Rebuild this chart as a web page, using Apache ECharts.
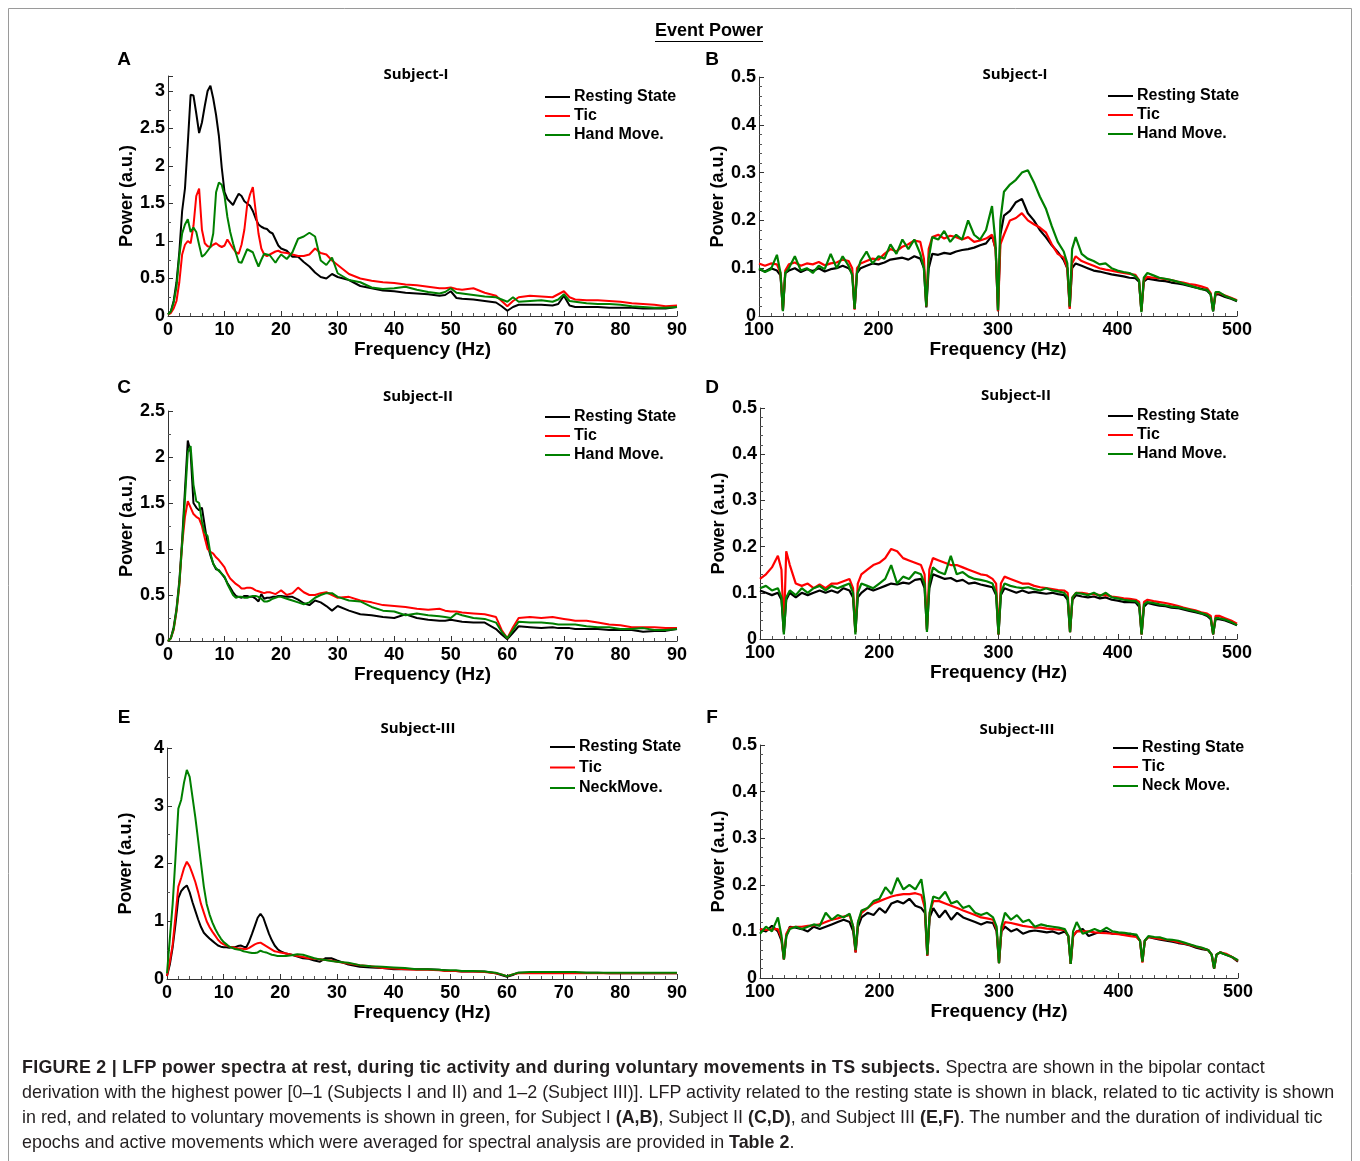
<!DOCTYPE html>
<html>
<head>
<meta charset="utf-8">
<script src="https://cdn.jsdelivr.net/npm/echarts@6/dist/echarts.min.js"></script>
<style>
  body { margin: 0; background: #fff; }
  #chart { position: absolute; left: 0; top: 0; width: 1360px; height: 1161px; }
  #caption {
    position: absolute; left: 22px; top: 1055px;
    font-family: "Liberation Sans", Arial, sans-serif; font-size: 17.9px; line-height: 25px;
    color: #231f20; white-space: nowrap;
  }
  #caption b.lead { letter-spacing: 0.25px; }
</style>
</head>
<body>
<div id="chart"></div>
<div id="caption">
<b class="lead">FIGURE 2 | LFP power spectra at rest, during tic activity and during voluntary movements in TS subjects.</b> Spectra are shown in the bipolar contact<br>
derivation with the highest power [0–1 (Subjects I and II) and 1–2 (Subject III)]. LFP activity related to the resting state is shown in black, related to tic activity is shown<br>
in red, and related to voluntary movements is shown in green, for Subject I <b>(A,B)</b>, Subject II <b>(C,D)</b>, and Subject III <b>(E,F)</b>. The number and the duration of individual tic<br>
epochs and active movements which were averaged for spectral analysis are provided in <b>Table 2</b>.
</div>
<script>
// frequency grids (Hz)
const lowFreq = [
  0,0.5,1,1.5,2,2.5,3,3.5,4,4.5,
  5,5.5,6,6.5,7,7.5,8,8.5,9,9.5,
  10,10.5,11,11.5,12,12.5,13,13.5,14,14.5,
  15,15.5,16,16.5,17,17.5,18,18.5,19,19.5,
  20,
  21,22,23,24,25,26,27,28,29,30,
  32,34,36,38,40,42,44,46,48,
  49,50,51,
  52,54,56,58,
  59,60,61,
  62,64,66,68,
  69,70,71,
  72,74,76,78,80,82,84,86,88,90
];
const highFreq = [
  100,105,110,115,
  118,120,122,
  125,130,135,140,145,150,155,160,165,170,175,
  178,180,182,
  185,190,195,200,205,210,215,220,225,230,235,
  238,240,242,
  245,250,255,260,265,270,275,280,285,290,295,
  298,300,302,
  305,310,315,320,325,330,335,340,345,350,355,
  358,360,362,
  365,370,375,380,385,390,395,400,405,410,415,
  418,420,422,
  425,430,435,440,445,450,455,460,465,470,475,
  478,480,482,
  485,490,495,500
];

// Subject I, 0-90 Hz
const restA = [
  0.02,0.06,0.2,0.45,0.85,1.4,1.7,2.3,2.95,2.94,
  2.7,2.44,2.58,2.8,3.0,3.07,2.9,2.68,2.4,1.98,
  1.65,1.56,1.52,1.48,1.56,1.63,1.6,1.53,1.5,1.47,
  1.4,1.3,1.22,1.19,1.17,1.16,1.12,1.1,1.02,0.94,
  0.9,
  0.87,0.79,0.79,0.72,0.66,0.58,0.52,0.5,0.56,0.52,
  0.48,0.4,0.37,0.34,0.33,0.31,0.3,0.29,0.27,
  0.28,0.33,0.24,
  0.23,0.22,0.2,0.18,
  0.13,0.07,0.12,
  0.15,0.15,0.15,0.14,
  0.16,0.27,0.14,
  0.12,0.12,0.12,0.11,0.11,0.11,0.1,0.1,0.1,0.12
];
const ticA = [
  0.02,0.04,0.1,0.2,0.45,0.82,0.95,1.0,0.97,1.2,
  1.6,1.7,1.15,0.97,0.93,0.92,0.95,0.97,0.94,0.92,
  0.94,1.02,0.96,0.9,0.85,0.83,0.95,1.15,1.48,1.62,
  1.72,1.4,1.1,0.9,0.82,0.8,0.82,0.84,0.86,0.87,
  0.85,
  0.84,0.82,0.8,0.8,0.82,0.9,0.84,0.82,0.74,0.68,
  0.56,0.5,0.47,0.45,0.44,0.42,0.41,0.39,0.37,
  0.37,0.38,0.36,
  0.35,0.37,0.31,0.27,
  0.2,0.13,0.2,
  0.25,0.27,0.26,0.25,
  0.29,0.33,0.25,
  0.22,0.21,0.21,0.2,0.19,0.17,0.16,0.15,0.13,0.14
];
const moveA = [
  0.02,0.06,0.18,0.39,0.8,1.1,1.22,1.29,1.12,1.18,
  1.12,0.95,0.79,0.82,0.87,0.92,1.1,1.65,1.78,1.75,
  1.6,1.32,1.12,0.97,0.84,0.72,0.71,0.8,0.89,0.87,
  0.85,0.75,0.66,0.75,0.83,0.82,0.81,0.76,0.71,0.77,
  0.82,
  0.76,0.85,1.03,1.06,1.11,1.06,0.74,0.68,0.78,0.57,
  0.48,0.45,0.38,0.36,0.37,0.39,0.35,0.32,0.3,
  0.32,0.37,0.31,
  0.3,0.28,0.26,0.25,
  0.22,0.19,0.25,
  0.19,0.2,0.21,0.19,
  0.22,0.29,0.2,
  0.19,0.17,0.16,0.16,0.15,0.13,0.12,0.11,0.11,0.12
];

// Subject II, 0-90 Hz
const restC = [
  0,0.03,0.15,0.35,0.65,1.1,1.64,2.18,2.05,1.5,
  1.45,1.42,1.45,1.25,1.05,0.93,0.84,0.78,0.77,0.73,
  0.69,0.63,0.58,0.53,0.49,0.48,0.47,0.49,0.49,0.48,
  0.48,0.46,0.43,0.51,0.46,0.47,0.47,0.48,0.48,0.49,
  0.49,
  0.48,0.48,0.45,0.41,0.39,0.44,0.42,0.38,0.33,0.38,
  0.33,0.29,0.28,0.26,0.25,0.29,0.25,0.23,0.22,
  0.22,0.23,0.22,
  0.21,0.2,0.2,0.13,
  0.07,0.02,0.09,
  0.16,0.15,0.14,0.15,
  0.14,0.14,0.14,
  0.13,0.13,0.13,0.12,0.12,0.12,0.1,0.11,0.11,0.13
];
const ticC = [
  0,0.03,0.12,0.32,0.6,1.05,1.35,1.52,1.45,1.38,
  1.35,1.33,1.25,1.12,1.0,0.97,0.95,0.91,0.88,0.84,
  0.8,0.73,0.68,0.65,0.62,0.6,0.57,0.57,0.58,0.58,
  0.57,0.55,0.54,0.53,0.52,0.53,0.53,0.52,0.51,0.53,
  0.55,
  0.5,0.52,0.58,0.53,0.5,0.5,0.52,0.53,0.5,0.47,
  0.48,0.44,0.42,0.39,0.38,0.37,0.35,0.34,0.35,
  0.33,0.32,0.32,
  0.31,0.3,0.29,0.26,
  0.12,0.03,0.15,
  0.25,0.26,0.25,0.26,
  0.25,0.24,0.23,
  0.22,0.22,0.2,0.18,0.17,0.15,0.15,0.15,0.14,0.14
];
const moveC = [
  0,0.03,0.13,0.33,0.62,1.05,1.55,2.05,2.12,1.7,
  1.52,1.5,1.3,1.18,1.14,0.95,0.84,0.79,0.76,0.73,
  0.7,0.62,0.56,0.5,0.47,0.48,0.48,0.47,0.47,0.48,
  0.49,0.49,0.48,0.46,0.43,0.43,0.44,0.46,0.47,0.48,
  0.48,
  0.46,0.44,0.42,0.4,0.42,0.47,0.5,0.52,0.52,0.48,
  0.44,0.43,0.37,0.33,0.32,0.28,0.3,0.28,0.27,
  0.26,0.25,0.3,
  0.28,0.25,0.24,0.2,
  0.1,0.03,0.12,
  0.21,0.2,0.2,0.19,
  0.18,0.18,0.18,
  0.18,0.16,0.15,0.15,0.13,0.13,0.14,0.12,0.12,0.13
];

// Subject III, 0-90 Hz
const restE = [
  0.05,0.25,0.55,0.95,1.4,1.52,1.58,1.62,1.5,1.33,
  1.18,1.03,0.9,0.8,0.75,0.7,0.66,0.62,0.58,0.56,
  0.55,0.55,0.54,0.55,0.55,0.57,0.58,0.56,0.55,0.65,
  0.78,0.92,1.06,1.13,1.06,0.92,0.78,0.67,0.58,0.52,
  0.48,
  0.44,0.42,0.39,0.36,0.35,0.32,0.3,0.36,0.36,0.32,
  0.25,0.21,0.2,0.19,0.17,0.17,0.17,0.17,0.16,
  0.15,0.14,0.14,
  0.13,0.13,0.13,0.1,
  0.07,0.04,0.07,
  0.11,0.11,0.12,0.11,
  0.11,0.11,0.11,
  0.11,0.11,0.11,0.1,0.1,0.1,0.1,0.1,0.1,0.1
];
const ticE = [
  0.05,0.3,0.6,1.1,1.6,1.75,1.92,2.03,1.95,1.82,
  1.68,1.5,1.3,1.15,1.0,0.9,0.82,0.75,0.68,0.63,
  0.6,0.58,0.56,0.55,0.54,0.53,0.53,0.52,0.52,0.54,
  0.57,0.6,0.62,0.63,0.6,0.57,0.54,0.51,0.48,0.47,
  0.46,
  0.44,0.42,0.4,0.38,0.36,0.35,0.34,0.33,0.32,0.3,
  0.27,0.24,0.22,0.19,0.18,0.17,0.16,0.16,0.15,
  0.14,0.14,0.14,
  0.13,0.13,0.12,0.1,
  0.08,0.05,0.08,
  0.1,0.1,0.1,0.1,
  0.1,0.1,0.1,
  0.1,0.1,0.1,0.1,0.1,0.1,0.1,0.1,0.1,0.1
];
const moveE = [
  0.1,0.7,1.3,2.1,2.95,3.1,3.4,3.62,3.5,3.15,
  2.8,2.4,2.0,1.6,1.3,1.12,0.98,0.87,0.78,0.7,
  0.64,0.6,0.56,0.54,0.52,0.51,0.5,0.48,0.47,0.46,
  0.45,0.45,0.46,0.49,0.47,0.46,0.44,0.42,0.41,0.4,
  0.4,
  0.4,0.41,0.43,0.42,0.39,0.36,0.34,0.33,0.31,0.3,
  0.28,0.24,0.22,0.21,0.2,0.19,0.17,0.17,0.16,
  0.15,0.15,0.15,
  0.14,0.14,0.13,0.11,
  0.08,0.05,0.08,
  0.11,0.12,0.12,0.12,
  0.12,0.12,0.12,
  0.12,0.11,0.11,0.11,0.11,0.11,0.11,0.11,0.11,0.11
];

// Subject I, 100-500 Hz
const restB = [
  0.098,0.093,0.1,0.095,
  0.085,0.012,0.09,
  0.095,0.1,0.092,0.098,0.094,0.1,0.093,0.098,0.1,0.105,0.1,
  0.09,0.015,0.09,
  0.1,0.105,0.11,0.108,0.112,0.118,0.12,0.122,0.118,0.125,0.12,
  0.1,0.018,0.1,
  0.13,0.128,0.132,0.13,0.135,0.138,0.14,0.143,0.148,0.152,0.168,
  0.14,0.01,0.17,
  0.21,0.22,0.238,0.245,0.215,0.2,0.18,0.165,0.148,0.134,0.117,
  0.1,0.018,0.1,
  0.11,0.105,0.1,0.095,0.093,0.09,0.087,0.085,0.083,0.08,0.079,
  0.072,0.01,0.072,
  0.078,0.076,0.074,0.073,0.07,0.068,0.066,0.063,0.06,0.057,0.053,
  0.045,0.01,0.045,
  0.045,0.04,0.036,0.031
];
const ticB = [
  0.11,0.105,0.11,0.108,
  0.09,0.012,0.095,
  0.108,0.112,0.105,0.11,0.108,0.113,0.106,0.11,0.112,0.118,0.115,
  0.1,0.013,0.1,
  0.11,0.115,0.12,0.118,0.13,0.14,0.135,0.145,0.15,0.158,0.155,
  0.12,0.02,0.14,
  0.165,0.17,0.162,0.168,0.165,0.16,0.165,0.155,0.158,0.162,0.17,
  0.14,0.01,0.15,
  0.17,0.2,0.205,0.215,0.2,0.192,0.185,0.175,0.15,0.13,0.122,
  0.1,0.015,0.11,
  0.125,0.115,0.11,0.105,0.1,0.097,0.095,0.092,0.09,0.088,0.086,
  0.075,0.01,0.075,
  0.082,0.08,0.079,0.077,0.075,0.072,0.07,0.067,0.065,0.062,0.058,
  0.048,0.012,0.048,
  0.048,0.043,0.038,0.033
];
const moveB = [
  0.1,0.092,0.098,0.128,
  0.09,0.01,0.09,
  0.1,0.125,0.095,0.1,0.09,0.105,0.098,0.13,0.1,0.125,0.105,
  0.085,0.015,0.09,
  0.115,0.135,0.11,0.125,0.12,0.15,0.13,0.16,0.14,0.16,0.13,
  0.1,0.02,0.12,
  0.165,0.16,0.178,0.155,0.17,0.16,0.2,0.17,0.16,0.18,0.23,
  0.15,0.012,0.2,
  0.26,0.275,0.285,0.3,0.305,0.28,0.25,0.225,0.188,0.155,0.135,
  0.11,0.02,0.14,
  0.165,0.13,0.12,0.115,0.108,0.11,0.1,0.095,0.092,0.09,0.083,
  0.075,0.008,0.08,
  0.09,0.085,0.08,0.078,0.075,0.072,0.068,0.064,0.06,0.056,0.055,
  0.045,0.01,0.05,
  0.05,0.042,0.037,0.032
];

// Subject II, 100-500 Hz
const restD = [
  0.105,0.1,0.095,0.1,
  0.085,0.015,0.085,
  0.1,0.09,0.1,0.095,0.1,0.105,0.1,0.105,0.1,0.11,0.105,
  0.09,0.015,0.09,
  0.1,0.11,0.105,0.11,0.115,0.12,0.118,0.122,0.12,0.128,0.13,
  0.11,0.02,0.11,
  0.14,0.135,0.13,0.132,0.125,0.128,0.12,0.122,0.118,0.115,0.112,
  0.095,0.01,0.095,
  0.11,0.105,0.1,0.105,0.1,0.102,0.1,0.098,0.1,0.097,0.095,
  0.085,0.015,0.085,
  0.095,0.092,0.09,0.092,0.088,0.09,0.085,0.083,0.08,0.08,0.079,
  0.07,0.01,0.07,
  0.078,0.075,0.072,0.071,0.068,0.067,0.064,0.061,0.058,0.055,0.05,
  0.043,0.01,0.043,
  0.043,0.04,0.035,0.03
];
const ticD = [
  0.13,0.14,0.155,0.18,
  0.15,0.02,0.19,
  0.16,0.12,0.115,0.12,0.11,0.118,0.11,0.12,0.12,0.125,0.13,
  0.11,0.015,0.12,
  0.14,0.15,0.16,0.165,0.175,0.195,0.19,0.175,0.17,0.165,0.16,
  0.14,0.02,0.15,
  0.175,0.17,0.165,0.16,0.16,0.155,0.15,0.145,0.14,0.138,0.13,
  0.12,0.01,0.12,
  0.135,0.13,0.125,0.12,0.12,0.115,0.112,0.11,0.108,0.106,0.105,
  0.1,0.015,0.09,
  0.1,0.1,0.098,0.097,0.095,0.095,0.092,0.09,0.088,0.087,0.085,
  0.08,0.01,0.08,
  0.085,0.082,0.08,0.078,0.075,0.072,0.068,0.065,0.062,0.058,0.055,
  0.05,0.01,0.05,
  0.05,0.045,0.04,0.033
];
const moveD = [
  0.11,0.115,0.105,0.11,
  0.09,0.01,0.09,
  0.105,0.095,0.11,0.1,0.11,0.115,0.105,0.115,0.11,0.115,0.12,
  0.1,0.01,0.1,
  0.12,0.115,0.11,0.12,0.13,0.16,0.12,0.135,0.13,0.145,0.14,
  0.12,0.015,0.12,
  0.155,0.145,0.14,0.18,0.14,0.145,0.135,0.13,0.128,0.125,0.12,
  0.1,0.01,0.1,
  0.12,0.115,0.112,0.11,0.112,0.108,0.105,0.11,0.105,0.103,0.1,
  0.09,0.015,0.09,
  0.1,0.098,0.095,0.1,0.093,0.1,0.09,0.088,0.085,0.083,0.082,
  0.075,0.01,0.075,
  0.08,0.078,0.075,0.073,0.07,0.069,0.066,0.063,0.06,0.056,0.052,
  0.045,0.01,0.045,
  0.045,0.042,0.037,0.03
];

// Subject III, 100-500 Hz
const restF = [
  0.105,0.1,0.112,0.1,
  0.08,0.04,0.09,
  0.11,0.108,0.105,0.1,0.11,0.105,0.11,0.115,0.12,0.125,0.12,
  0.1,0.055,0.11,
  0.13,0.14,0.135,0.15,0.14,0.16,0.165,0.16,0.17,0.155,0.15,
  0.14,0.048,0.13,
  0.15,0.13,0.145,0.125,0.14,0.13,0.125,0.12,0.115,0.12,0.118,
  0.1,0.032,0.1,
  0.11,0.1,0.105,0.095,0.1,0.102,0.1,0.098,0.1,0.095,0.1,
  0.09,0.03,0.09,
  0.1,0.105,0.09,0.095,0.1,0.1,0.095,0.095,0.093,0.095,0.09,
  0.08,0.035,0.08,
  0.088,0.085,0.082,0.08,0.078,0.075,0.073,0.07,0.065,0.062,0.06,
  0.05,0.02,0.05,
  0.055,0.05,0.045,0.035
];
const ticF = [
  0.105,0.103,0.105,0.105,
  0.085,0.04,0.095,
  0.108,0.11,0.11,0.112,0.113,0.115,0.12,0.125,0.128,0.132,0.135,
  0.11,0.055,0.12,
  0.14,0.15,0.16,0.165,0.17,0.175,0.178,0.18,0.18,0.182,0.178,
  0.15,0.048,0.14,
  0.165,0.165,0.16,0.155,0.15,0.145,0.14,0.135,0.13,0.128,0.125,
  0.105,0.032,0.1,
  0.12,0.118,0.115,0.112,0.11,0.108,0.108,0.106,0.105,0.104,0.103,
  0.09,0.03,0.09,
  0.1,0.1,0.1,0.098,0.097,0.096,0.095,0.094,0.092,0.09,0.088,
  0.08,0.033,0.08,
  0.088,0.086,0.084,0.082,0.08,0.077,0.074,0.071,0.067,0.064,0.06,
  0.05,0.02,0.05,
  0.055,0.052,0.045,0.037
];
const moveF = [
  0.095,0.11,0.1,0.13,
  0.09,0.04,0.09,
  0.105,0.11,0.105,0.11,0.115,0.112,0.14,0.125,0.135,0.13,0.138,
  0.11,0.06,0.12,
  0.145,0.15,0.165,0.17,0.195,0.18,0.215,0.19,0.2,0.19,0.212,
  0.16,0.05,0.14,
  0.175,0.17,0.185,0.16,0.165,0.15,0.155,0.14,0.135,0.14,0.13,
  0.11,0.032,0.11,
  0.14,0.125,0.135,0.12,0.125,0.11,0.115,0.112,0.11,0.108,0.105,
  0.09,0.03,0.1,
  0.12,0.095,0.1,0.105,0.1,0.108,0.1,0.098,0.097,0.095,0.093,
  0.08,0.035,0.08,
  0.09,0.088,0.087,0.083,0.082,0.08,0.076,0.072,0.068,0.065,0.06,
  0.05,0.02,0.05,
  0.055,0.05,0.045,0.038
];

const colors = ['#000000', '#ff0000', '#008000'];
const FONT = 'Liberation Sans, Arial, sans-serif';

// layout of the six panels
const panels = [
  { grid: [168, 76, 509, 240], freq: lowFreq, x: [0, 90, 10, 5], y: [0, 3.2, 0.5, 2],
    data: [restA, ticA, moveA], names: ['Resting State', 'Tic', 'Hand Move.'],
    legend: [545, 89, 3], letter: ['A', 124, 60], title: ['Subject-I', 416, 75] },
  { grid: [759, 77, 478, 239], freq: highFreq, x: [100, 500, 100, 10], y: [0, 0.5, 0.1, 5],
    data: [restB, ticB, moveB], names: ['Resting State', 'Tic', 'Hand Move.'],
    legend: [1108, 88, 3], letter: ['B', 712, 60], title: ['Subject-I', 1015, 75] },
  { grid: [168, 411, 509, 230], freq: lowFreq, x: [0, 90, 10, 5], y: [0, 2.5, 0.5, 2],
    data: [restC, ticC, moveC], names: ['Resting State', 'Tic', 'Hand Move.'],
    legend: [545, 409, 3], letter: ['C', 124, 388], title: ['Subject-II', 418, 397] },
  { grid: [760, 408, 477, 231], freq: highFreq, x: [100, 500, 100, 10], y: [0, 0.5, 0.1, 5],
    data: [restD, ticD, moveD], names: ['Resting State', 'Tic', 'Hand Move.'],
    legend: [1108, 408, 3], letter: ['D', 712, 388], title: ['Subject-II', 1016, 396] },
  { grid: [167, 748, 510, 231], freq: lowFreq, x: [0, 90, 10, 5], y: [0, 4, 1, 2],
    data: [restE, ticE, moveE], names: ['Resting State', 'Tic', 'NeckMove.'],
    legend: [550, 739, 4.5], letter: ['E', 124, 718], title: ['Subject-III', 418, 729] },
  { grid: [760, 745, 478, 233], freq: highFreq, x: [100, 500, 100, 10], y: [0, 0.5, 0.1, 5],
    data: [restF, ticF, moveF], names: ['Resting State', 'Tic', 'Neck Move.'],
    legend: [1113, 740, 3], letter: ['F', 712, 718], title: ['Subject-III', 1017, 730] }
];

const axisLine = { lineStyle: { color: '#333', width: 1 } };
const grids = [], xAxes = [], yAxes = [], series = [], legends = [];
const graphics = [
  { type: 'rect', shape: { x: 8.5, y: 8.5, width: 1343, height: 1200 },
    style: { fill: 'none', stroke: '#9a9a9a', lineWidth: 1 } },
  { type: 'text', x: 709, y: 31,
    style: { text: 'Event Power', font: 'bold 18px ' + FONT, textAlign: 'center', textVerticalAlign: 'middle', fill: '#000' } },
  { type: 'line', shape: { x1: 655, y1: 41.5, x2: 763, y2: 41.5 }, style: { stroke: '#000', lineWidth: 1.2 } }
];

panels.forEach((p, i) => {
  grids.push({ left: p.grid[0], top: p.grid[1], width: p.grid[2], height: p.grid[3] });
  xAxes.push({
    type: 'value', gridIndex: i, min: p.x[0], max: p.x[1], interval: p.x[2],
    name: 'Frequency (Hz)', nameLocation: 'middle', nameGap: 22,
    nameTextStyle: { fontFamily: FONT, fontWeight: 'bold', fontSize: 19, color: '#000' },
    axisLine: axisLine,
    axisTick: { inside: true, length: 5, lineStyle: { color: '#333' } },
    minorTick: { show: true, splitNumber: p.x[3], length: 3, lineStyle: { color: '#555' } },
    axisLabel: { fontFamily: FONT, fontWeight: 'bold', fontSize: 18, color: '#000', margin: 5 },
    splitLine: { show: false }
  });
  yAxes.push({
    type: 'value', gridIndex: i, min: p.y[0], max: p.y[1], interval: p.y[2],
    name: 'Power (a.u.)', nameLocation: 'middle', nameGap: 32,
    nameTextStyle: { fontFamily: FONT, fontWeight: 'bold', fontSize: 18, color: '#000' },
    axisLine: { show: true, lineStyle: { color: '#333', width: 1 } },
    axisTick: { show: true, inside: true, length: 5, lineStyle: { color: '#333' } },
    minorTick: { show: true, splitNumber: p.y[3], length: 3, lineStyle: { color: '#555' } },
    axisLabel: { fontFamily: FONT, fontWeight: 'bold', fontSize: 18, color: '#000', margin: 3,
      showMaxLabel: p.y[1] % p.y[2] < 1e-9 || p.y[2] - (p.y[1] % p.y[2]) < 1e-9 },
    splitLine: { show: false }
  });
  p.data.forEach((vals, k) => {
    series.push({
      type: 'line', name: p.names[k], xAxisIndex: i, yAxisIndex: i,
      symbol: 'none', showSymbol: false, animation: false,
      color: colors[k], lineStyle: { color: colors[k], width: p.x[1] > 100 ? 2.2 : 2 },
      data: p.freq.map((f, j) => [f, vals[j]])
    });
  });
  legends.push({
    left: p.legend[0], top: p.legend[1], orient: 'vertical', data: p.names,
    icon: 'rect', itemWidth: 25, itemHeight: 2, itemGap: p.legend[2], padding: 0,
    selectedMode: false,
    textStyle: { fontFamily: FONT, fontWeight: 'bold', fontSize: 16, color: '#000', padding: [0, 0, 0, -1] }
  });
  graphics.push({ type: 'text', x: p.letter[1], y: p.letter[2],
    style: { text: p.letter[0], font: 'bold 19px ' + FONT, textAlign: 'center', textVerticalAlign: 'middle', fill: '#000' } });
  graphics.push({ type: 'text', x: p.title[1], y: p.title[2],
    style: { text: p.title[0], font: 'bold 15px "Open Sans", sans-serif', textAlign: 'center', textVerticalAlign: 'middle', fill: '#000' } });
});

const chart = echarts.init(document.getElementById('chart'));
chart.setOption({
  backgroundColor: '#fff',
  animation: false,
  grid: grids,
  xAxis: xAxes,
  yAxis: yAxes,
  legend: legends,
  series: series,
  graphic: graphics
});
window.addEventListener('resize', () => chart.resize());
</script>
</body>
</html>
